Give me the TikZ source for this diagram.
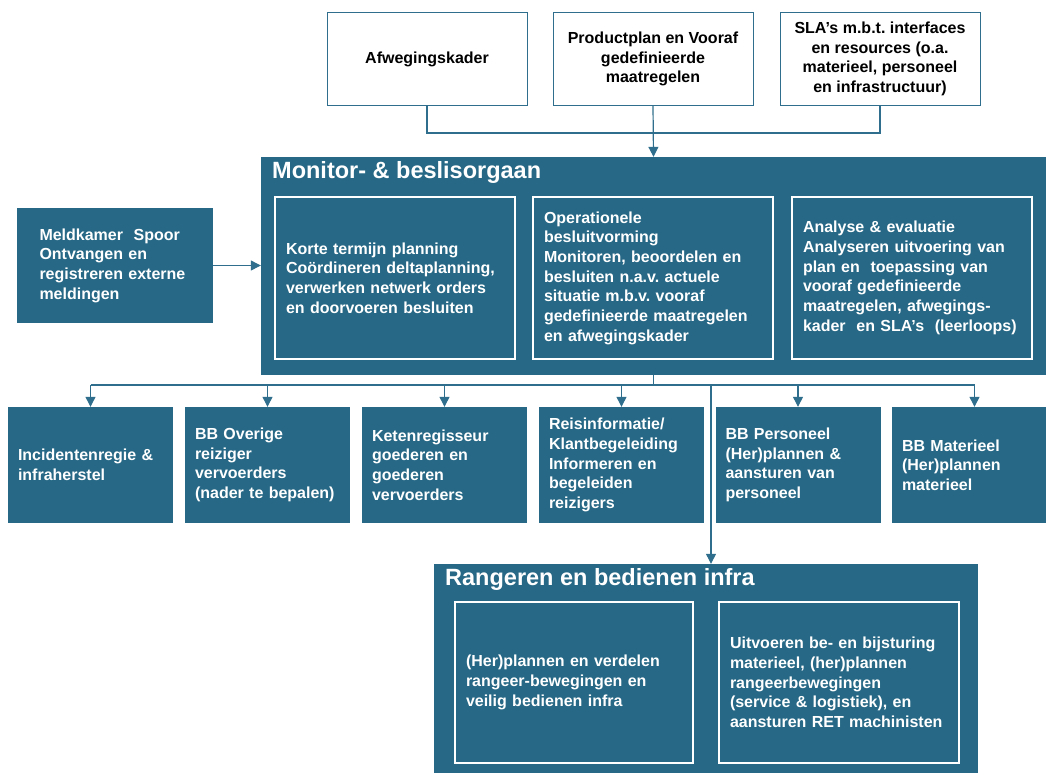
\documentclass[tikz,border=0pt]{standalone}
\usepackage{fontspec}
\setmainfont{Liberation Sans}
\usepackage{xcolor}
\usepackage{tikz}
\usetikzlibrary{arrows.meta}
\definecolor{rail}{HTML}{266885}
\definecolor{edge}{HTML}{2F6E8C}
\frenchspacing
\tikzset{
  txt/.style={font=\bfseries\fontsize{16}{19.7}\selectfont},
  topbox/.style={txt, draw=edge, line width=0.8pt, fill=white, text=black, align=center, minimum width=200pt, minimum height=93pt, inner sep=2pt},
  panel/.style={fill=rail, inner sep=0pt},
  sub/.style={txt, draw=white, line width=1.3pt, text=white, align=left, text width=218pt, inner xsep=11pt, minimum height=162pt},
  unit/.style={txt, fill=rail, text=white, align=left, text width=145pt, inner xsep=10pt, minimum height=116pt},
  head/.style={font=\bfseries\fontsize{23.5}{28}\selectfont, text=white, anchor=base west, inner sep=0pt},
  link/.style={draw=edge, line width=1.2pt},
  arr/.style={link, -{Triangle[width=10pt,length=10pt]}}
}
\begin{document}
\begin{tikzpicture}[x=1pt, y=-1pt]
  \useasboundingbox (0,0) rectangle (1046,774);

  % inputs
  \node[topbox] (afw) at (427,59) {Afwegingskader};
  \node[topbox] (prod) at (653,59) {Productplan en Vooraf\\gedefinieerde\\maatregelen};
  \node[topbox] (sla) at (880,59) {SLA’s m.b.t. interfaces\\en resources (o.a.\\materieel, personeel\\en infrastructuur)};

  % monitor- & beslisorgaan
  \node[panel, minimum width=785pt, minimum height=218pt] (mon) at (653.5,266) {};
  \node[head] (monT) at (272,178) {Monitor- \& beslisorgaan};
  \node[sub] (kt) at (395,278) {Korte termijn planning\\Coördineren deltaplanning,\\verwerken netwerk orders\\en doorvoeren besluiten};
  \node[sub] (ob) at (653,278) {Operationele\\besluitvorming\\Monitoren, beoordelen en\\besluiten n.a.v. actuele\\situatie m.b.v. vooraf\\gedefinieerde maatregelen\\en afwegingskader};
  \node[sub] (ae) at (912,278) {Analyse \& evaluatie\\Analyseren uitvoering van\\plan en~ toepassing van\\vooraf gedefinieerde\\maatregelen, afwegings-\\kader~ en SLA’s~ (leerloops)};

  \node[unit, text width=151pt, inner xsep=22.5pt, minimum height=115pt] (meld) at (115,265.5) {Meldkamer~ Spoor\\Ontvangen en\\registreren externe\\meldingen};

  % uitvoerende eenheden
  \node[unit] (inc) at (90.5,465) {Incidentenregie \&\\infraherstel};
  \node[unit] (ovr) at (267.5,465) {BB Overige\\reiziger\\vervoerders\\(nader te bepalen)};
  \node[unit] (ket) at (444.5,465) {Ketenregisseur\\goederen en\\goederen\\vervoerders};
  \node[unit] (rei) at (621.5,465) {Reisinformatie/\\Klantbegeleiding\\Informeren en\\begeleiden\\reizigers};
  \node[unit] (per) at (798,465) {BB Personeel\\(Her)plannen \&\\aansturen van\\personeel};
  \node[unit] (mat) at (974.5,465) {BB Materieel\\(Her)plannen\\materieel};

  % rangeren
  \node[panel, minimum width=544pt, minimum height=209pt] (rang) at (706,668.5) {};
  \node[head] (rangT) at (445,585) {Rangeren en bedienen infra};
  \node[sub, text width=216pt, minimum height=161pt] (vd) at (574,682.5) {(Her)plannen en verdelen\\rangeer-bewegingen en\\veilig bedienen infra};
  \node[sub, minimum height=161pt] (ub) at (839,682.5) {Uitvoeren be- en bijsturing\\materieel, (her)plannen\\rangeerbewegingen\\(service \& logistiek), en\\aansturen RET machinisten};

  % verbindingen
  \coordinate (tj) at (653,133);
  \coordinate (bj) at (653.5,385);
  \coordinate (rj) at (711,385);
  \draw[link] (afw.south) |- (tj) -| (sla.south);
  \draw[arr] (prod.south) -- (mon.north);
  \draw[arr] (meld.east) -- (meld.east -| mon.west);
  \draw[link] (mon.south) -- (bj);
  \draw[link] (inc.north |- bj) -- (mat.north |- bj);
  \foreach \n in {inc,ovr,ket,rei,per,mat}
    \draw[arr] (\n.north |- bj) -- (\n.north);
  \draw[arr] (rj) -- (rj |- rang.north);
\end{tikzpicture}
\end{document}
